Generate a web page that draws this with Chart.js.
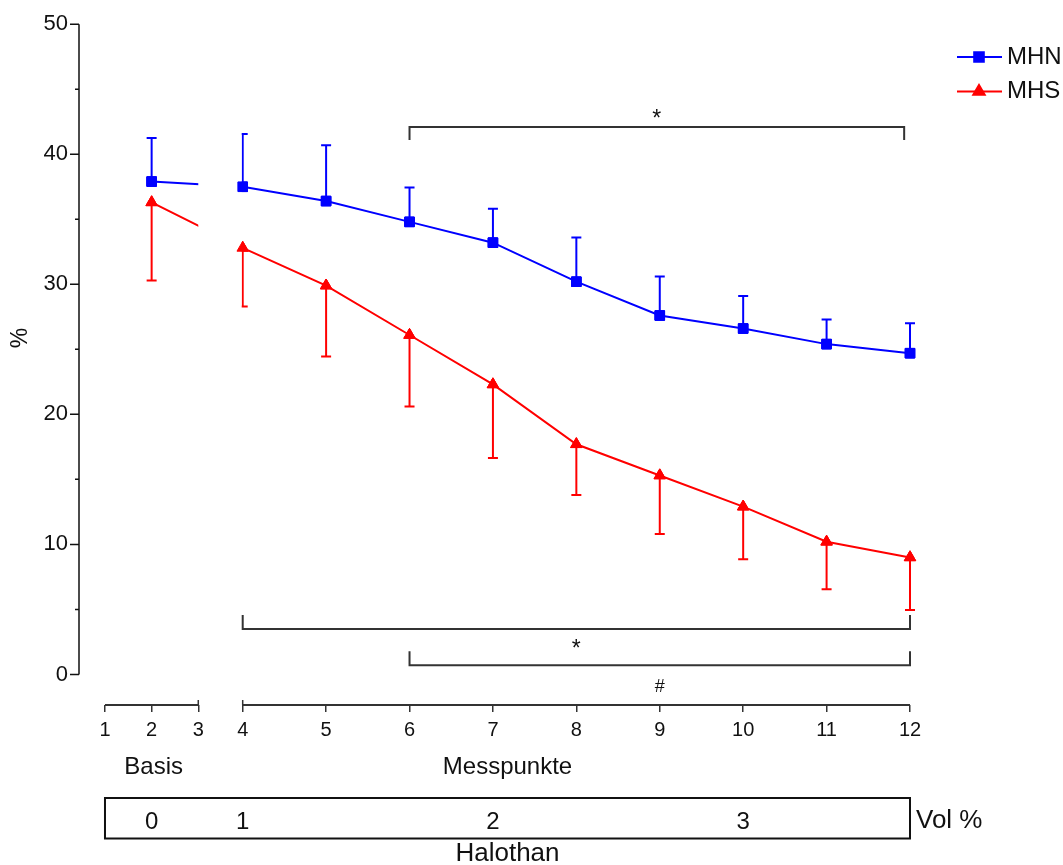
<!DOCTYPE html>
<html>
<head>
<meta charset="utf-8">
<title>MHN / MHS Halothan</title>
<script src="https://cdn.jsdelivr.net/npm/chart.js@4.4.0/dist/chart.umd.min.js"></script>
<style>
  html, body { margin: 0; padding: 0; background: #fff; }
  canvas { display: block; }
</style>
</head>
<body>
<canvas id="chart" width="1063" height="865"></canvas>
<script>
// Messpunkte with values (1 and 3 have none)
var messpunkte = [2, 4, 5, 6, 7, 8, 9, 10, 11, 12];
var mhnMean = [37.9, 37.5, 36.4, 34.8, 33.2, 30.2, 27.6, 26.6, 25.4, 24.7];
var mhnSd   = [3.35, 4.05, 4.3, 2.65, 2.6, 3.4, 3.0, 2.5, 1.9, 2.3];
var mhsMean = [36.3, 32.8, 29.9, 26.1, 22.3, 17.7, 15.3, 12.9, 10.2, 9.0];
var mhsSd   = [6.0, 4.5, 5.45, 5.5, 5.65, 3.9, 4.5, 4.05, 3.65, 4.05];

var xTicks = [1, 2, 3, 4, 5, 6, 7, 8, 9, 10, 11, 12];
var yTicks = [0, 5, 10, 15, 20, 25, 30, 35, 40, 45, 50];

// significance brackets: from, to, level, label
var bracketFrom  = [6, 4, 6];
var bracketTo    = [11.93, 12, 12];
var bracketY     = [42.1, 3.5, 0.7];
var bracketLabel = ['*', '*', '#'];

// Halothan Vol % row
var volAt    = [2, 4, 7, 10];
var volLabel = ['0', '1', '2', '3'];

var BLUE = '#0000ff', RED = '#ff0000', INK = '#111', AXIS = '#333';
var FONT = "'Liberation Sans', Arial, sans-serif";

// broken x axis: 1..3 | gap | 4..12, the right part is stretched
var BREAK_FROM = 3, BREAK_TO = 4;
var GAP_UNITS = 0.952;
var RIGHT_STRETCH = 1.788;

class BrokenScale extends Chart.LinearScale {
  toUnits(v) {
    if (v <= BREAK_FROM) return v;
    if (v <= BREAK_TO) return BREAK_FROM + (v - BREAK_FROM) * GAP_UNITS;
    return BREAK_FROM + (BREAK_TO - BREAK_FROM) * GAP_UNITS + (v - BREAK_TO) * RIGHT_STRETCH;
  }
  getPixelForValue(v) {
    var u0 = this.toUnits(this.min), u1 = this.toUnits(this.max);
    return this.left + this.width * (this.toUnits(v) - u0) / (u1 - u0);
  }
}
BrokenScale.id = 'broken';
BrokenScale.defaults = Chart.LinearScale.defaults;
Chart.register(BrokenScale);

Chart.defaults.font.family = FONT;
Chart.defaults.color = INK;

function points(means) {
  return messpunkte.map(function (m, i) { return { x: m, y: means[i] }; });
}

function drawErrorBars(ctx, xs, ys, means, sds, dir, color) {
  ctx.strokeStyle = color;
  ctx.lineWidth = 2;
  messpunkte.forEach(function (m, i) {
    var px = xs.getPixelForValue(m);
    var p0 = ys.getPixelForValue(means[i]);
    var p1 = ys.getPixelForValue(means[i] + dir * sds[i]);
    ctx.beginPath();
    ctx.moveTo(px, p0); ctx.lineTo(px, p1);
    ctx.moveTo(px - 5, p1); ctx.lineTo(px + 5, p1);
    ctx.stroke();
  });
}

function text(ctx, s, x, y, size, align) {
  ctx.font = size + 'px ' + FONT;
  ctx.fillStyle = INK;
  ctx.textAlign = align || 'center';
  ctx.textBaseline = 'middle';
  ctx.fillText(s, x, y);
}

var extrasPlugin = {
  id: 'extras',
  beforeDatasetsDraw: function (chart) {
    var ctx = chart.ctx, xs = chart.scales.x, ys = chart.scales.y;
    var gapL = xs.getPixelForValue(BREAK_FROM), gapR = xs.getPixelForValue(BREAK_TO) - 1;
    ctx.save();
    ctx.beginPath();
    ctx.rect(0, 0, gapL, chart.height);
    ctx.rect(gapR, 0, chart.width - gapR, chart.height);
    ctx.clip();
    drawErrorBars(ctx, xs, ys, mhnMean, mhnSd, 1, BLUE);
    drawErrorBars(ctx, xs, ys, mhsMean, mhsSd, -1, RED);
  },
  afterDatasetsDraw: function (chart) {
    var ctx = chart.ctx, xs = chart.scales.x, ys = chart.scales.y;
    var area = chart.chartArea;
    ctx.restore();
    // markers on top, not cut by the break
    chart.data.datasets.forEach(function (d, i) {
      chart.getDatasetMeta(i).data.forEach(function (p) { p.draw(ctx); });
    });

    ctx.save();
    // y axis
    var yl = area.left;
    ctx.strokeStyle = INK;
    ctx.lineWidth = 1.5;
    ctx.beginPath();
    ctx.moveTo(yl, ys.getPixelForValue(0));
    ctx.lineTo(yl, ys.getPixelForValue(50));
    yTicks.forEach(function (v) {
      var py = ys.getPixelForValue(v);
      ctx.moveTo(yl, py);
      ctx.lineTo(yl - (v % 10 === 0 ? 9 : 4), py);
    });
    ctx.stroke();

    // x axis pieces
    var xb = area.bottom;
    ctx.strokeStyle = AXIS;
    ctx.lineWidth = 2;
    ctx.beginPath();
    ctx.moveTo(xs.getPixelForValue(1), xb); ctx.lineTo(xs.getPixelForValue(BREAK_FROM), xb);
    ctx.moveTo(xs.getPixelForValue(BREAK_TO), xb); ctx.lineTo(xs.getPixelForValue(12), xb);
    ctx.stroke();
    ctx.lineWidth = 1.5;
    ctx.beginPath();
    [BREAK_FROM, BREAK_TO].forEach(function (v) {
      var px = xs.getPixelForValue(v);
      ctx.moveTo(px, xb - 5); ctx.lineTo(px, xb);
    });
    ctx.stroke();

    // brackets
    ctx.strokeStyle = AXIS;
    ctx.lineWidth = 2;
    bracketFrom.forEach(function (f, i) {
      var x0 = xs.getPixelForValue(f), x1 = xs.getPixelForValue(bracketTo[i]);
      var py = ys.getPixelForValue(bracketY[i]);
      var up = bracketY[i] > 25;
      var tick = up ? 13 : -14;
      ctx.beginPath();
      ctx.moveTo(x0, py + tick); ctx.lineTo(x0, py); ctx.lineTo(x1, py); ctx.lineTo(x1, py + tick);
      ctx.stroke();
      var lx = (x0 + x1) / 2;
      ctx.fillStyle = INK;
      ctx.textAlign = 'center';
      ctx.textBaseline = 'alphabetic';
      if (bracketLabel[i] === '*') {
        ctx.font = '23px ' + FONT;
        ctx.fillText('*', lx, up ? py - 1 : py + 27);
      } else {
        ctx.font = '18px ' + FONT;
        ctx.fillText(bracketLabel[i], lx, py + 27);
      }
    });

    // Basis / Messpunkte
    var bx0 = xs.getPixelForValue(1), bx1 = xs.getPixelForValue(12);
    text(ctx, 'Basis', xs.getPixelForValue(2) + 2, xb + 62, 24);
    text(ctx, 'Messpunkte', (bx0 + bx1) / 2, xb + 62, 24);

    // Halothan box
    ctx.strokeStyle = INK;
    ctx.lineWidth = 2;
    ctx.strokeRect(bx0, xb + 93, bx1 - bx0, 40.5);
    volAt.forEach(function (v, i) {
      text(ctx, volLabel[i], xs.getPixelForValue(v), xb + 117, 24);
    });
    text(ctx, 'Vol %', bx1 + 6, xb + 116, 26, 'left');
    text(ctx, 'Halothan', (bx0 + bx1) / 2, xb + 149, 26);

    // y title
    ctx.save();
    ctx.translate(21, 338);
    ctx.rotate(-Math.PI / 2);
    text(ctx, '%', 0, 0, 23);
    ctx.restore();

    // legend
    chart.data.datasets.forEach(function (d, i) {
      var ly = 57 + i * 34.5;
      ctx.strokeStyle = d.borderColor;
      ctx.lineWidth = 2;
      ctx.beginPath();
      ctx.moveTo(957, ly); ctx.lineTo(1002, ly);
      ctx.stroke();
      ctx.fillStyle = d.backgroundColor;
      Chart.helpers.drawPoint(ctx, { pointStyle: d.pointStyle, radius: d.pointRadius, rotation: 0, borderWidth: 1 }, 979, ly);
      text(ctx, d.label, 1007, ly, 24, 'left');
    });
    ctx.restore();
  }
};

new Chart(document.getElementById('chart'), {
  type: 'line',
  data: {
    datasets: [
      { label: 'MHN', data: points(mhnMean), borderColor: BLUE, backgroundColor: BLUE, borderWidth: 2,
        pointStyle: 'rect', pointRadius: 6.8, pointBorderWidth: 1, tension: 0, clip: false },
      { label: 'MHS', data: points(mhsMean), borderColor: RED, backgroundColor: RED, borderWidth: 2,
        pointStyle: 'triangle', pointRadius: 6.6, pointBorderWidth: 1, tension: 0, clip: false }
    ]
  },
  options: {
    responsive: false,
    animation: false,
    events: [],
    layout: { padding: { top: 22, right: 153, left: 0, bottom: 0 } },
    plugins: { legend: { display: false }, tooltip: { enabled: false } },
    scales: {
      x: {
        type: 'broken',
        min: 0.443,
        max: 12,
        afterFit: function (s) { s.height = 160; },
        afterBuildTicks: function (s) { s.ticks = xTicks.map(function (v) { return { value: v }; }); },
        border: { display: false },
        grid: { drawOnChartArea: false, drawTicks: true, tickLength: 7, color: AXIS, lineWidth: 1.5 },
        ticks: { autoSkip: false, maxRotation: 0, padding: 6, color: INK, font: { size: 20 } }
      },
      y: {
        min: -2.35,
        max: 50,
        afterFit: function (s) { s.width = 79; },
        afterBuildTicks: function (s) { s.ticks = yTicks.map(function (v) { return { value: v }; }); },
        border: { display: false },
        grid: { display: false, drawTicks: false },
        ticks: { padding: 11, color: INK, font: { size: 22 },
          callback: function (v) { return v % 10 === 0 ? v : ''; } }
      }
    }
  },
  plugins: [extrasPlugin]
});
</script>
</body>
</html>
